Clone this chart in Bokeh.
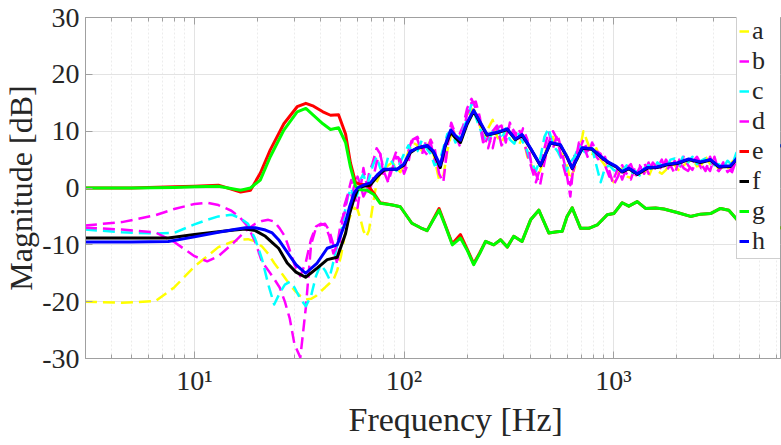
from bokeh.plotting import figure
from bokeh.models import FixedTicker, Legend, LegendItem, Range1d, LogAxis, Title
from bokeh.embed import file_html
from bokeh.resources import INLINE

# ---------------- data ----------------
freq_dash = [3, 4.5, 6.5, 8, 10, 11.5, 13, 15, 16.5, 18,
             19.5, 21, 22.5, 24, 25.5, 27, 28.5, 30, 32, 34,
             36, 38, 40, 42, 44, 46, 48, 50, 52, 54,
             56, 58, 60, 62, 64, 66, 68, 71, 74, 77,
             80, 84, 88, 92, 96, 100, 105, 110, 116, 122,
             128, 134, 140, 147, 154, 161, 168, 176, 184, 192,
             200, 210, 220, 230, 240, 252, 265, 278, 292, 306,
             320, 336, 352, 370, 388, 406, 426, 446, 468, 490,
             514, 540, 566, 594, 622, 652, 684, 718, 752, 790,
             828, 868, 910, 955, 1000, 1050, 1100, 1155, 1210, 1270,
             1330, 1400, 1470, 1540, 1620, 1700, 1780, 1870, 1960, 2060,
             2160, 2270, 2380, 2500, 2620, 2750, 2890, 3030, 3180, 3340,
             3500, 3680, 3860, 4050, 4250, 4460, 4700, 5000, 5400, 5800,
             6300]

a_vals = [-20.0, -20.2, -19.9, -17.5, -13.8, -12.0, -10.4, -9.5, -9.1, -9.0,
          -9.4, -10.3, -11.6, -13.2, -14.5, -15.8, -17.0, -18.0, -19.0, -19.6,
          -19.5, -19.0, -18.2, -17.5, -16.8, -16.2, -14.5, -12.0, -8.5, -6.0,
          -4.5, -3.5, -3.8, -5.5, -7.5, -8.6, -7.5, -3.0, 1.0, 2.5,
          3.2, 4.0, 4.5, 3.5, 2.8, 4.0, 6.5, 8.0, 7.5, 6.5,
          7.0, 8.5, 5.0, 1.5, 2.0, 6.5, 9.5, 10.0, 8.0, 9.0,
          12.0, 14.0, 13.5, 11.0, 8.5, 10.5, 12.0, 9.0, 8.0, 9.5,
          10.5, 8.5, 7.5, 9.0, 5.5, 4.0, 2.0, 3.0, 5.5, 8.5,
          9.0, 6.5, 6.0, 4.5, 1.5, 3.5, 6.0, 10.0, 8.0, 6.0,
          7.0, 5.0, 4.0, 2.5, 1.0, 2.5, 3.5, 2.0, 1.8, 3.5,
          2.5, 3.0, 2.0, 3.8, 3.0, 2.5, 3.2, 4.5, 4.0, 3.0,
          4.0, 4.5, 5.2, 3.8, 4.0, 5.5, 4.2, 4.8, 3.2, 3.8,
          3.2, 4.6, 5.2, 6.8, 7.3, 7.5, 7.2, 7.5, 7.6, 7.4,
          7.5]

b_vals = [-6.6, -6.0, -4.8, -3.7, -2.8, -2.6, -3.0, -4.0, -5.2, -6.8,
          -9.5, -13.0, -14.5, -16.0, -17.5, -20.0, -23.0, -27.5, -29.8, -21.0,
          -10.0, -7.0, -6.5, -6.3, -7.5, -10.0, -13.5, -8.0, -3.0, -1.0,
          -1.5, 0.5, 2.0, 0.5, -1.5, -0.5, 2.5, 4.5, 7.0, 6.0,
          2.0, 1.5, 4.5, 6.5, 4.0, 3.0, 6.5, 9.0, 8.5, 6.0,
          8.5, 8.0, 5.0, 3.5, 5.0, 9.0, 11.0, 9.0, 9.5, 11.0,
          14.0, 15.7, 14.0, 11.0, 7.5, 9.0, 7.0, 10.5, 11.0, 8.0,
          11.5, 9.0, 10.5, 8.5, 6.0, 3.5, 1.0, 3.5, 7.0, 10.0,
          7.0, 9.5, 6.5, 3.0, -1.5, 6.0, 6.5, 8.5, 6.5, 7.5,
          5.5, 4.5, 5.5, 3.0, 0.5, 2.0, 4.0, 2.5, 1.5, 3.8,
          4.0, 2.5, 4.5, 2.8, 4.2, 3.3, 5.0, 3.5, 4.8, 3.2,
          5.5, 4.0, 3.2, 5.0, 3.5, 4.0, 3.0, 5.5, 3.0, 4.5,
          2.8, 3.5, 5.5, 6.5, 7.5, 7.2, 7.4, 7.6, 7.3, 7.5,
          7.5]

c_vals = [-7.3, -7.8, -8.0, -7.9, -6.4, -5.6, -5.0, -4.7, -5.3, -6.3,
          -9.0, -12.5, -17.0, -20.5, -18.5, -17.0, -16.5, -17.5, -19.5, -20.8,
          -19.0, -15.5, -13.5, -14.5, -16.0, -13.0, -10.0, -8.0, -4.5, -1.5,
          0.0, -2.5, -1.0, 1.5, 2.5, 0.5, 1.5, 4.0, 5.5, 3.5,
          2.5, 5.5, 4.5, 3.0, 4.5, 6.0, 7.5, 6.0, 6.5, 8.5,
          7.0, 6.0, 4.0, 4.5, 7.0, 9.5, 10.0, 8.0, 9.0, 10.5,
          12.0, 14.8, 12.5, 10.5, 9.0, 8.0, 10.0, 11.0, 8.5, 10.5,
          8.5, 7.8, 9.5, 8.0, 6.5, 4.5, 3.0, 5.0, 9.0, 10.5,
          7.5, 6.5, 5.0, 3.0, 4.5, 5.5, 7.5, 6.5, 6.0, 7.0,
          4.0, 1.0, 3.5, 4.0, 3.2, 2.8, 3.0, 4.0, 2.5, 3.0,
          2.2, 3.5, 4.0, 3.0, 4.5, 4.0, 3.5, 5.0, 5.2, 4.0,
          5.8, 4.5, 5.5, 4.2, 4.8, 5.2, 4.5, 4.0, 4.2, 3.5,
          4.8, 4.0, 6.2, 7.0, 7.4, 7.6, 7.5, 7.5, 7.5, 7.5,
          7.5]

d_vals = [-7.0, -7.3, -7.8, -9.5, -12.0, -12.9, -12.0, -10.0, -8.5, -7.2,
          -6.3, -5.8, -5.6, -5.9, -7.1, -8.5, -11.0, -13.5, -15.5, -13.0,
          -9.0, -6.8, -6.3, -6.5, -8.5, -11.5, -10.0, -6.0, -4.4, -1.0,
          1.4, -1.0, -3.5, 0.0, 3.5, 1.0, -1.0, 1.5, 4.5, 6.0,
          3.0, 1.0, 3.5, 5.5, 5.0, 2.5, 4.5, 8.5, 9.0, 7.0,
          6.0, 8.5, 7.0, 2.5, 1.0, 7.0, 11.5, 9.5, 7.5, 10.0,
          13.0, 15.0, 15.2, 12.5, 8.0, 7.0, 10.0, 11.0, 7.5, 9.0,
          11.0, 10.0, 8.0, 10.5, 8.5, 4.0, 2.5, 0.5, 4.5, 8.0,
          10.0, 8.5, 5.0, 2.0, 0.5, 4.0, 8.0, 7.5, 5.5, 8.0,
          6.5, 6.0, 4.0, 2.0, 1.5, 3.5, 1.5, 3.5, 4.2, 2.0,
          3.5, 4.5, 2.5, 4.5, 3.5, 5.0, 3.0, 4.0, 2.5, 5.0,
          3.5, 3.0, 4.5, 5.5, 4.2, 3.0, 5.5, 3.5, 3.0, 4.0,
          3.5, 2.8, 5.0, 6.5, 7.2, 7.3, 7.5, 7.5, 7.5, 7.5,
          7.5]

freq_eg = [3, 5, 8, 10, 13, 16.6, 18.5, 20.6, 23, 26.7,
           30.9, 34, 37, 41, 44.6, 48.7, 52.6, 55.5, 58.7, 62,
           66.7, 72, 77, 88, 96, 109, 120, 129, 138, 147,
           158, 170, 186, 200, 215, 230, 245, 268, 289, 311,
           334, 366, 402, 440, 491, 538, 569, 600, 635, 696,
           762, 836, 933, 1003, 1100, 1183, 1298, 1422, 1587, 1738,
           2013, 2331, 2601, 2904, 3241, 3551, 3890, 4263, 5000, 6300]

e_vals = [0.0, 0.0, 0.2, 0.3, 0.5, -0.7, -0.4, 2.6, 6.7, 11.3,
          14.3, 14.9, 14.4, 13.4, 12.8, 12.9, 9.5, 4.4, 1.0, 0.6,
          0.6, -1.0, -2.6, -3.0, -3.3, -6.2, -7.0, -7.5, -5.5, -3.6,
          -6.7, -9.8, -8.2, -10.7, -13.3, -11.4, -9.4, -10.0, -9.1, -10.4,
          -8.5, -9.4, -5.6, -3.9, -7.9, -7.7, -7.6, -5.0, -3.5, -7.1,
          -7.1, -6.5, -4.7, -4.5, -2.6, -3.2, -2.4, -3.6, -3.5, -3.7,
          -4.3, -5.0, -4.6, -4.5, -3.6, -3.9, -5.6, -7.1, -7.3, -7.0]

g_vals = [0.0, 0.0, 0.1, 0.2, 0.3, -0.4, 0.0, 1.4, 5.5, 10.2,
          13.4, 14.0, 12.8, 11.3, 10.3, 10.6, 8.0, 3.7, 0.3, -0.3,
          -0.4, -1.2, -2.7, -3.0, -3.3, -6.2, -7.0, -7.5, -5.6, -3.9,
          -6.8, -10.0, -8.8, -10.9, -13.5, -11.5, -9.4, -10.0, -9.1, -10.4,
          -8.5, -9.4, -5.6, -3.9, -7.9, -7.7, -7.6, -5.0, -3.5, -7.1,
          -7.1, -6.5, -4.7, -4.5, -2.6, -3.2, -2.4, -3.6, -3.5, -3.7,
          -4.3, -5.0, -4.6, -4.5, -3.6, -3.9, -5.6, -7.1, -7.3, -7.0]

freq_fh = [3, 5, 7.5, 10, 13, 15.5, 17.5, 19.5, 21.8, 23.5,
           25.2, 27.7, 30.5, 33.9, 38.5, 43, 48, 52.6, 55, 57.6,
           60, 64, 69, 74.5, 80, 86, 92.8, 99.8, 107, 115,
           129, 138, 149, 157, 167, 176, 186, 200, 215, 232,
           249, 278, 311, 340, 366, 402, 448, 500, 558, 600,
           635, 709, 791, 866, 950, 1030, 1100, 1183, 1298, 1449,
           1617, 1804, 2013, 2286, 2601, 2904, 3182, 3619, 4038, 4345,
           5000, 6300]

f_vals = [-8.8, -8.8, -8.8, -8.2, -7.7, -7.4, -7.2, -7.5, -8.5, -9.6,
          -10.6, -13.2, -14.8, -15.7, -14.1, -12.6, -12.2, -8.0, -4.5, -2.0,
          -0.3, 0.3, 0.5, 2.0, 3.1, 3.3, 3.3, 4.0, 6.2, 7.0,
          7.4, 6.3, 3.6, 7.2, 9.8, 8.8, 8.0, 11.2, 13.5, 11.3,
          9.3, 9.7, 10.3, 8.5, 9.3, 6.9, 3.9, 7.9, 7.5, 5.4,
          3.4, 7.0, 6.8, 5.5, 4.4, 3.7, 2.8, 3.4, 2.4, 3.5,
          3.6, 4.1, 4.3, 5.0, 4.5, 4.9, 3.7, 3.8, 5.9, 7.1,
          7.4, 7.4]

h_vals = [-9.5, -9.5, -9.4, -8.6, -7.8, -7.3, -7.0, -7.0, -7.4, -7.9,
          -9.1, -11.3, -13.5, -15.0, -13.2, -10.6, -10.0, -6.0, -3.3, -1.0,
          0.0, 0.5, 0.9, 2.3, 3.3, 3.3, 3.3, 4.2, 6.4, 7.0,
          7.5, 6.5, 4.0, 7.5, 10.2, 9.2, 8.4, 11.5, 13.7, 11.5,
          9.4, 9.8, 10.4, 8.6, 9.4, 7.0, 4.0, 8.0, 7.6, 5.5,
          3.5, 7.1, 6.9, 5.6, 4.5, 3.8, 2.9, 3.5, 2.5, 3.6,
          3.7, 4.2, 4.4, 5.1, 4.6, 5.0, 3.8, 3.9, 6.0, 7.2,
          7.5, 7.5]

x_major = [10, 100, 1000]
x_major_labels = ["10\u00b9", "10\u00b2", "10\u00b3"]
x_minor = [3, 4, 5, 6, 7, 8, 9, 20, 30, 40, 50, 60, 70, 80, 90,
           200, 300, 400, 500, 600, 700, 800, 900,
           2000, 3000, 4000, 5000, 6000]
y_ticks = [-30, -20, -10, 0, 10, 20, 30]
y_labels = ["-30", "-20", "-10", "0", "10", "20", "30"]
x_title = "Frequency [Hz]"
y_title = "Magnitude [dB]"

# ---------------- figure ----------------
FONT = "Liberation Serif"
AX = "#a0a0a0"
TXT = "#262626"

p = figure(width=781, height=445, x_axis_type="log",
           x_range=Range1d(3.018, 6266), y_range=Range1d(-30, 30),
           output_backend="svg", toolbar_location=None,
           min_border_left=85, min_border_right=1,
           min_border_top=17, min_border_bottom=87)
p.background_fill_color = "white"
p.border_fill_color = "white"
p.outline_line_color = AX
p.outline_line_width = 1

series = [
    ("a", freq_dash, a_vals, "#ffff00", "dashed"),
    ("b", freq_dash, b_vals, "#ff00ff", "dashed"),
    ("c", freq_dash, c_vals, "#00ffff", "dashed"),
    ("d", freq_dash, d_vals, "#ff00ff", "dashed"),
    ("e", freq_eg, e_vals, "#ff0000", "solid"),
    ("f", freq_fh, f_vals, "#000000", "solid"),
    ("g", freq_eg, g_vals, "#00ff00", "solid"),
    ("h", freq_fh, h_vals, "#0000ff", "solid"),
]

items = []
for name, xs, ys, col, dash in series:
    if dash == "dashed":
        r = p.line(xs, ys, line_color=col, line_width=2.5, line_dash="12 6",
                   line_join="round")
    else:
        r = p.line(xs, ys, line_color=col, line_width=3, line_join="round")
    items.append(LegendItem(label=name, renderers=[r]))

# axes
p.xaxis.ticker = FixedTicker(ticks=x_major, minor_ticks=x_minor)
p.xaxis.major_label_overrides = dict(zip(x_major, x_major_labels))
p.yaxis.ticker = FixedTicker(ticks=y_ticks)
p.yaxis.major_label_overrides = dict(zip(y_ticks, y_labels))

for ax in (p.xaxis[0], p.yaxis[0]):
    ax.axis_line_color = AX
    ax.major_tick_line_color = AX
    ax.minor_tick_line_color = AX
    ax.major_tick_in = 7
    ax.major_tick_out = 0
    ax.minor_tick_in = 4
    ax.minor_tick_out = 0
    ax.major_label_text_font = FONT
    ax.major_label_text_font_size = "28px"
    ax.major_label_text_color = TXT
    ax.axis_label_text_font = FONT
    ax.axis_label_text_font_size = "32px"
    ax.axis_label_text_font_style = "normal"
    ax.axis_label_text_color = TXT

p.yaxis.minor_tick_line_color = None
p.yaxis.axis_label = y_title
p.xaxis.major_label_standoff = 6
p.yaxis.major_label_standoff = 6
p.yaxis.axis_label_standoff = 0

# x title, shifted right as in the (cropped) original axes box
p.add_layout(Title(text=x_title, align="left", offset=263, standoff=0,
                   text_font=FONT, text_font_size="34px",
                   text_font_style="normal", text_color=TXT), "below")

# top axis: ticks only (box-style frame)
top = LogAxis(ticker=FixedTicker(ticks=x_major, minor_ticks=x_minor),
              major_label_text_font_size="1px", major_label_text_color=None,
              major_label_standoff=0,
              axis_line_color=AX, major_tick_line_color=AX,
              minor_tick_line_color=AX, major_tick_in=7, major_tick_out=0,
              minor_tick_in=4, minor_tick_out=0)
p.add_layout(top, "above")

# grid
p.xgrid.ticker = FixedTicker(ticks=x_major, minor_ticks=x_minor)
p.xgrid.grid_line_color = "#e3e3e3"
p.xgrid.minor_grid_line_color = "#ececec"
p.xgrid.minor_grid_line_dash = "2 2"
p.ygrid.ticker = FixedTicker(ticks=y_ticks)
p.ygrid.grid_line_color = "#e3e3e3"

legend = Legend(items=items, location=(651, 99),
                label_text_font=FONT, label_text_font_size="26px",
                label_text_color=TXT, label_width=28,
                glyph_width=10, glyph_height=26, label_height=26,
                label_standoff=3, spacing=-2, padding=2, margin=0,
                border_line_color=AX, background_fill_color="white",
                background_fill_alpha=1.0)
p.add_layout(legend)

open("out.html", "w").write(file_html(p, INLINE))
